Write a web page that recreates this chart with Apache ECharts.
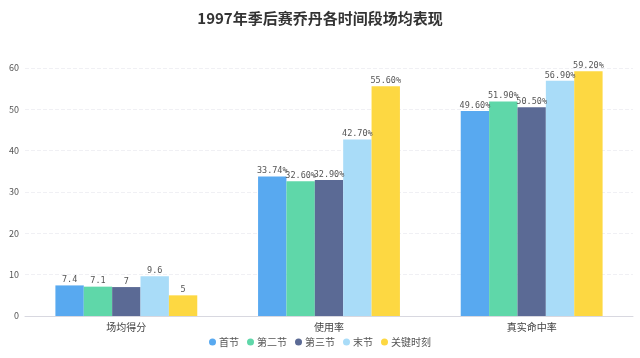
<!DOCTYPE html>
<html><head><meta charset="utf-8">
<script src="https://cdn.jsdelivr.net/npm/echarts@6/dist/echarts.min.js"></script>
<style>html,body{margin:0;padding:0;background:#fff}#c{width:640px;height:358px}</style>
</head><body><div id="c"></div>
<script>
const titleText = '1997年季后赛乔丹各时间段场均表现';
const categories = ['场均得分', '使用率', '真实命中率'];
const seriesNames = ['首节', '第二节', '第三节', '末节', '关键时刻'];
const firstQuarter = [7.4, 33.74, 49.6];
const secondQuarter = [7.1, 32.6, 51.9];
const thirdQuarter = [7, 32.9, 50.5];
const fourthQuarter = [9.6, 42.7, 56.9];
const clutchTime = [5, 55.6, 59.2];
const yTicks = [0, 10, 20, 30, 40, 50, 60];

const colors = ['#58a9f0', '#5fd7a9', '#5b6a95', '#a9dcf8', '#fdd842'];
const allData = [firstQuarter, secondQuarter, thirdQuarter, fourthQuarter, clutchTime];
const font = '"Noto Sans CJK SC", "Noto Sans", sans-serif';

const chart = echarts.init(document.getElementById('c'));
chart.setOption({
  animation: false,
  color: colors,
  textStyle: { fontFamily: font },
  title: {
    text: titleText, left: 'center', top: 6,
    textStyle: { fontSize: 15, fontWeight: 'bold', color: '#333', fontFamily: font }
  },
  legend: {
    bottom: 6, left: 'center', icon: 'circle', itemWidth: 7, itemHeight: 7, itemGap: 8,
    textStyle: { color: '#555', fontSize: 10, fontFamily: font, padding: [0, 0, 0, -2] }
  },
  grid: { left: 25, right: 7, top: 68, bottom: 42, containLabel: false },
  xAxis: {
    type: 'category', data: categories,
    axisLine: { lineStyle: { color: '#d8d8e0' } },
    axisTick: { show: false },
    axisLabel: { color: '#444', fontSize: 10, margin: 6 }
  },
  yAxis: {
    type: 'value', min: yTicks[0], max: yTicks[yTicks.length - 1], interval: 10,
    axisLine: { show: false }, axisTick: { show: false },
    axisLabel: { color: '#555', fontSize: 9, margin: 6 },
    splitLine: { lineStyle: { color: '#f0f0f4', type: 'dashed' } }
  },
  series: seriesNames.map((name, i) => ({
    name, type: 'bar', data: allData[i],
    barGap: '0%', barCategoryGap: '30%',
    label: {
      show: true, position: 'top', distance: 1, color: '#555', fontSize: 8.5,
      fontFamily: '"DejaVu Sans Mono", monospace',
      formatter: p => p.dataIndex === 0 ? String(p.value) : p.value.toFixed(2) + '%'
    }
  }))
});
</script></body></html>
